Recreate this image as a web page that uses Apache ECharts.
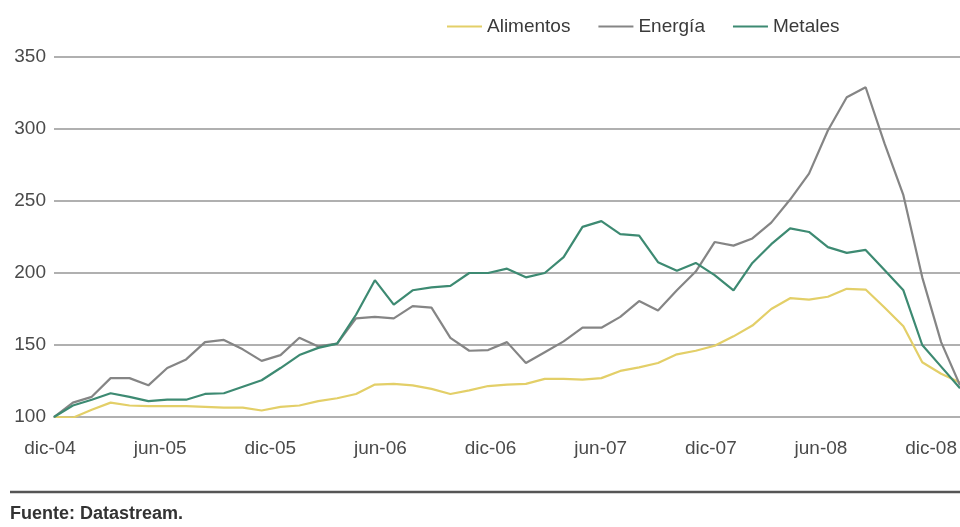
<!DOCTYPE html>
<html><head><meta charset="utf-8">
<script src="https://cdn.jsdelivr.net/npm/echarts@6/dist/echarts.min.js"></script>
<style>html,body{margin:0;padding:0;background:#fff}#c{width:960px;height:527px}</style>
</head><body><div id="c"></div>
<script>
const months = ['dic-04','ene-05','feb-05','mar-05','abr-05','may-05','jun-05','jul-05','ago-05','sep-05','oct-05','nov-05',
  'dic-05','ene-06','feb-06','mar-06','abr-06','may-06','jun-06','jul-06','ago-06','sep-06','oct-06','nov-06',
  'dic-06','ene-07','feb-07','mar-07','abr-07','may-07','jun-07','jul-07','ago-07','sep-07','oct-07','nov-07',
  'dic-07','ene-08','feb-08','mar-08','abr-08','may-08','jun-08','jul-08','ago-08','sep-08','oct-08','nov-08','dic-08'];
const tickLabels = ['dic-04','jun-05','dic-05','jun-06','dic-06','jun-07','dic-07','jun-08','dic-08'];
const alimentos = [100,99.5,105,110,108,107.5,107.5,107.5,107,106.5,106.5,104.5,
  107,108,111,113,116,122.5,123,122,119.5,116,118.5,121.5,
  122.5,123,126.5,126.5,126,127,132,134.5,137.5,143.5,146,149.5,
  156,163.5,175,182.5,181.5,183.5,189,188.5,176,163,138,130,124];
const energia = [100,110,114,127,127,122,134,140,152,153.5,147,139,
  143,155,149,151,168.5,169.5,168.5,177,176,155,146,146.5,
  152,137.5,145,152.5,162,162,169.5,180.5,174,188,201,221.5,
  219,224,235,251,269,299,322,329,290,254,197,152,122];
const metales = [100,108,112,116.5,114,111,112,112,116,116.5,121,125.5,
  134,143,148,151,171,195,178,188,190,191,200,200,
  203,197,200,211,232,236,227,226,207.5,201.5,207,198.5,
  188,207,220,231,228.5,218,214,216,202,188,150,135,120];
const seriesNames = ['Alimentos','Energía','Metales'];
const seriesColors = ['#e3cf68','#858585','#3d8a72'];
const yMin = 100, yMax = 350, yStep = 50;

const font = "'Liberation Sans', Arial, sans-serif";
const chart = echarts.init(document.getElementById('c'), null, {renderer:'canvas'});
const data = [alimentos, energia, metales];
chart.setOption({
  animation:false,
  backgroundColor:'#fff',
  textStyle:{fontFamily:font},
  legend:{
    left:442, top:12, icon:'rect', itemWidth:35, itemHeight:2, itemGap:28,
    textStyle:{fontFamily:font, fontSize:19, color:'#3a3a3a'},
    data: seriesNames
  },
  grid:[
    {left:54, right:0, top:57, bottom:110, containLabel:false},
    {left:50, right:20, top:57, bottom:110, containLabel:false}
  ],
  xAxis:[
    {type:'category', gridIndex:0, data:months, boundaryGap:false,
     axisLine:{show:true, lineStyle:{color:'#b0b0b0', width:2}}, axisTick:{show:false}, axisLabel:{show:false}},
    {type:'category', gridIndex:1, data:tickLabels, boundaryGap:false,
     axisLine:{show:false}, axisTick:{show:false},
     axisLabel:{show:true, interval:0, margin:22, fontFamily:font, fontSize:19, color:'#4a4a4a'}}
  ],
  yAxis:[
    {type:'value', gridIndex:0, min:yMin, max:yMax, interval:yStep,
     axisLine:{show:false}, axisTick:{show:false},
     axisLabel:{margin:8, fontFamily:font, fontSize:19, color:'#4a4a4a'},
     splitLine:{show:true, lineStyle:{color:'#b0b0b0', width:2}}},
    {type:'value', gridIndex:1, show:false, min:yMin, max:yMax}
  ],
  series: seriesNames.map((n,i)=>({
    name:n, type:'line', xAxisIndex:0, yAxisIndex:0, data:data[i],
    symbol:'none', lineStyle:{color:seriesColors[i], width:2.2}, itemStyle:{color:seriesColors[i]}
  })),
  graphic:[
    {type:'line', shape:{x1:10, y1:492, x2:960, y2:492}, style:{stroke:'#555', lineWidth:2.5}},
    {type:'text', left:10, top:505, style:{text:'Fuente: Datastream.', font:'bold 18px ' + font, fill:'#333'}}
  ]
});
</script></body></html>
